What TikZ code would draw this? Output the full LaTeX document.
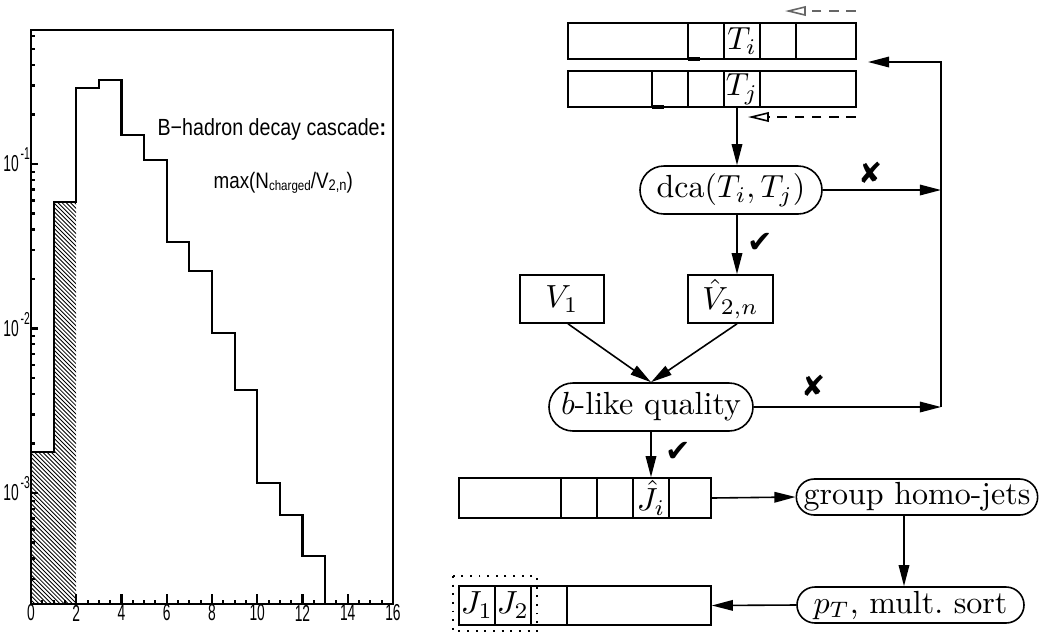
\documentclass[tikz,border=0pt]{standalone}
\usepackage{fontspec}
\newfontfamily\plotfont[FakeStretch=0.84]{Liberation Sans}
\newfontfamily\tickfont[FakeStretch=0.6]{Liberation Sans}
\newfontfamily\dingfont{DejaVu Sans}
\usetikzlibrary{arrows.meta,shapes.misc,calc}
\newcommand\pxu{0.3125pt}

\begin{document}
\begin{tikzpicture}[x=0.3125pt,y=-0.3125pt,
  histline/.style={line width=0.65pt},
  hatchline/.style={line width=0.27pt},
  axnum/.style={font=\tickfont\fontsize{7.2}{8}\selectfont, inner sep=0pt},
  axexp/.style={font=\tickfont\fontsize{5.4}{6}\selectfont, inner sep=0pt},
  plotlabel/.style={font=\plotfont\fontsize{7.3}{8}\selectfont, inner sep=0pt, anchor=base west},
  flowline/.style={line width=0.5pt},
  arr/.style={flowline, -{Triangle[length=6.6pt,width=3.3pt]}},
  backarr/.style={line width=0.5pt, dash pattern=on 3pt off 2.4pt, -{Triangle[open,length=6.5pt,width=3pt]}},
  arraybox/.style={draw, flowline, rectangle, inner sep=0pt},
  pill/.style={draw, flowline, rounded rectangle, inner sep=0pt},
  okmark/.style={font=\dingfont\fontsize{9.5}{10}\selectfont, inner sep=0pt},
  nomark/.style={font=\dingfont\fontsize{9}{10}\selectfont, inner sep=0pt},
]
\useasboundingbox (0,0) rectangle (1040,635);

% ---------------- histogram ----------------
% hatched region (bins 0 and 1)
\begin{scope}
  \clip (31,604) -- (31,452) -- (53.625,452) -- (53.625,202) -- (76.25,202) -- (76.25,604) -- cycle;
  \foreach \k in {-440,-435.8,...,40}
    \draw[hatchline] (\k,150) -- ++(500,500);
\end{scope}

% frame
\draw[histline] (31,30) rectangle (393,604);

% outline of the distribution
\draw[histline] (31,452) -- (53.625,452) -- (53.625,202) -- (76.25,202) -- (76.25,88)
  -- (98.875,88) -- (98.875,80) -- (121.5,80) -- (121.5,135) -- (144.125,135)
  -- (144.125,160) -- (166.75,160) -- (166.75,242) -- (189.375,242) -- (189.375,271)
  -- (212,271) -- (212,333) -- (234.625,333) -- (234.625,390) -- (257.25,390)
  -- (257.25,483) -- (279.875,483) -- (279.875,515) -- (302.5,515) -- (302.5,556)
  -- (325.125,556) -- (325.125,604);

% x axis ticks and numbers
\foreach \i in {0,...,32}{
  \pgfmathsetmacro\xx{31+11.3125*\i}
  \pgfmathsetmacro\tl{mod(\i,4)==0 ? 10 : 4.5}
  \draw[histline] (\xx,604) -- (\xx,604-\tl);
}
\foreach \n in {0,2,...,16}
  \node[axnum] (xl\n) at (31+\n*22.625,613) {\n};

% y axis (logarithmic) ticks and labels
\foreach \b in {164,328.5,493,657.5}{
  \foreach \k in {2,...,9}{
    \pgfmathsetmacro\yy{\b-164.5*ln(\k)/ln(10)}
    \ifdim\yy pt<603pt\relax\ifdim\yy pt>31pt\relax
      \draw[histline] (31,\yy) -- (35.5,\yy);
    \fi\fi
  }
}
\foreach \yv/\ex in {164/1,328.5/2,493/3}{
  \draw[histline] (31,\yv) -- (38,\yv);
  \node[axnum, anchor=east] (yl\ex) at (19.5,\yv) {10};
  \node[axexp, anchor=west] (ye\ex) at (20,\yv-10) {-\ex};
}

% plot captions
\node[plotlabel] (title) at (157,135) {B−hadron decay cascade\textbf{:}};
\node[plotlabel, font=\plotfont\fontsize{7}{8}\selectfont] (var) at (213,188)
  {max(N{\fontsize{4.3}{5}\selectfont\raisebox{-0.35ex}{charged}}/V{\fontsize{4.8}{5}\selectfont\raisebox{-0.35ex}{2,n}})};

% ---------------- flow chart ----------------
% track arrays
\node[arraybox, minimum width=288*\pxu, minimum height=36*\pxu] (Tiarr) at (712,41) {};
\foreach \xx in {688,724,760,796} \draw[flowline] (\xx,23) -- (\xx,59);
\node (Ti) at (742,41) {$T_i$};
\draw[line width=1pt] (688,59) -- (700,59);

\node[arraybox, minimum width=288*\pxu, minimum height=36*\pxu] (Tjarr) at (712,89) {};
\foreach \xx in {652,688,724,760} \draw[flowline] (\xx,71) -- (\xx,107);
\node (Tj) at (742,89) {$T_j$};
\draw[line width=1pt] (652,107) -- (664,107);

% loop-index arrows
\coordinate (ia) at (856,11);
\coordinate (ib) at (785,11);
\coordinate (ja) at (856,117);
\coordinate (jb) at (748,117);
\draw[backarr, black!60] (ia) -- (ib);
\draw[backarr] (ja) -- (jb);

% decision nodes
\node[pill, minimum width=182*\pxu, minimum height=48*\pxu] (dca) at (731,190) {$\mathrm{dca}(T_i,T_j)$};
\node[arraybox, minimum width=84*\pxu, minimum height=48*\pxu] (V1) at (562,299) {$V_1$};
\node[arraybox, minimum width=85*\pxu, minimum height=48*\pxu] (V2) at (730.5,299) {$\hat V_{2,n}$};
\node[pill, minimum width=204*\pxu, minimum height=48*\pxu] (blike) at (651,407) {$b$-like quality};

\draw[arr] ($(Tjarr.south)+(25,0)$) -- ($(dca.north)+(6,0)$);
\draw[arr] ($(dca.south)+(6,0)$) -- ($(V2.north)+(6.5,0)$);
\draw[arr] ($(V1.south)+(6,0)$) -- (blike.north);
\draw[arr] ($(V2.south)+(6.5,0)$) -- (blike.north);

% rejection loop back to the track arrays
\coordinate (fbT) at (941,62);
\coordinate (fbB) at (941,407);
\coordinate (fbTip) at (868,62);
\draw[arr] (fbB) -- (fbT) -- (fbTip);
\draw[arr] (dca.east) -- (dca.east -| fbT);
\draw[arr] (blike.east) -- (blike.east -| fbB);

\node[nomark] (rej1) at (871,173) {✘};
\node[nomark] (rej2) at (814,386) {✘};
\node[okmark] (acc1) at (760,243) {✔};
\node[okmark] (acc2) at (678,452) {✔};

% jet arrays
\node[arraybox, minimum width=252*\pxu, minimum height=40*\pxu] (Jharr) at (585,498) {};
\foreach \xx in {561,597,633,669} \draw[flowline] (\xx,478) -- (\xx,518);
\node (Jh) at (651,498) {$\hat J_i$};
\draw[arr] (blike.south) -- (blike.south |- Jharr.north);

\node[pill, minimum width=241*\pxu, minimum height=36*\pxu] (group) at (917,497) {group homo-jets};
\node[pill, minimum width=227*\pxu, minimum height=36*\pxu] (sort) at (910.5,605) {$p_T$, mult.\ sort};
\draw[arr] (Jharr.east) -- (group.west);
\draw[arr] ($(group.south)+(-13,0)$) -- ($(sort.north)+(-6.5,0)$);

\node[arraybox, minimum width=252*\pxu, minimum height=39*\pxu] (Jarr) at (585,605.5) {};
\foreach \xx in {495,531,567} \draw[flowline] (\xx,586) -- (\xx,625);
\node (J1) at (477,605) {$J_1$};
\node (J2) at (513,605) {$J_2$};
\draw[arr] (sort.west) -- (Jarr.east);
\draw[line width=0.5pt, dash pattern=on 0.6pt off 2.1pt] (453,576) rectangle (537,631);
\end{tikzpicture}
\end{document}
